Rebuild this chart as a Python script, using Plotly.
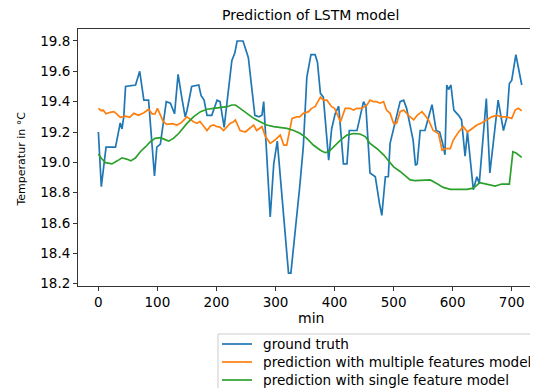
import plotly.graph_objects as go

# ground truth
gt_x = [0, 5, 13, 29, 33, 37, 40, 43, 46, 63, 70, 77, 85, 95, 99, 105, 115, 122, 129, 135,
        142, 147, 150, 158, 170, 174, 179, 184, 192, 201, 206, 213, 226, 231, 235, 245, 254,
        265, 272, 277, 280, 291, 297, 303, 322, 326, 341, 347, 353, 360, 367, 371, 376, 381,
        390, 395, 401, 407, 415, 421, 425, 438, 449, 453, 460, 469, 476, 480, 486, 491, 494,
        511, 517, 522, 533, 537, 540, 545, 553, 559, 565, 572, 578, 583, 587, 590, 593, 597,
        602, 610, 615, 621, 625, 635, 641, 645, 657, 663, 677, 686, 692, 696, 700, 707, 711, 717]
gt_y = [19.20, 18.84, 19.10, 19.10, 19.18, 19.26, 19.22, 19.30, 19.50, 19.51, 19.60, 19.41, 19.41,
        18.91, 19.10, 19.12, 19.40, 19.39, 19.32, 19.58, 19.41, 19.30, 19.34, 19.50, 19.51, 19.44,
        19.41, 19.31, 19.31, 19.41, 19.40, 19.23, 19.67, 19.72, 19.80, 19.80, 19.69, 19.31, 19.30,
        19.31, 19.40, 18.64, 18.99, 19.14, 18.27, 18.27, 18.84, 19.10, 19.56, 19.71, 19.71, 19.66,
        19.455, 19.43, 19.015, 19.22, 19.32, 19.37, 18.99, 18.99, 19.21, 19.21, 19.40, 19.37, 18.93,
        18.905, 18.73, 18.65, 18.905, 18.905, 19.125, 19.40, 19.41, 19.356, 19.147, 18.98, 18.99,
        19.21, 19.21, 19.30, 19.38, 19.21, 19.20, 19.125, 19.05, 19.51, 19.48, 19.51, 19.345, 19.31,
        19.28, 19.04, 19.20, 18.82, 18.905, 18.86, 19.42, 18.93, 19.41, 19.21, 19.30, 19.52, 19.54,
        19.71, 19.63, 19.51]

# prediction with multiple features model
mf_x = [0, 5, 8, 13, 20, 26, 31, 37, 46, 53, 60, 68, 77, 85, 91, 96, 100, 105, 110, 116, 125,
        133, 140, 150, 156, 161, 167, 172, 178, 184, 190, 195, 201, 206, 212, 218, 223, 229, 232,
        240, 249, 255, 263, 268, 277, 283, 291, 299, 308, 314, 319, 328, 336, 341, 347, 356, 361,
        367, 376, 381, 387, 395, 400, 410, 418, 426, 432, 438, 446, 455, 460, 466, 471, 477, 483,
        488, 494, 500, 505, 511, 517, 525, 534, 540, 548, 553, 559, 567, 576, 579, 582, 587, 596,
        601, 610, 618, 625, 632, 641, 649, 658, 666, 675, 683, 691, 700, 706, 711, 717]
mf_y = [19.356, 19.34, 19.345, 19.32, 19.33, 19.334, 19.32, 19.297, 19.305, 19.297, 19.323, 19.31,
        19.327, 19.35, 19.32, 19.32, 19.356, 19.31, 19.268, 19.25, 19.255, 19.246, 19.26, 19.30,
        19.28, 19.268, 19.257, 19.27, 19.24, 19.21, 19.24, 19.246, 19.235, 19.232, 19.21, 19.24,
        19.257, 19.268, 19.28, 19.21, 19.20, 19.22, 19.246, 19.21, 19.235, 19.17, 19.125, 19.147,
        19.18, 19.114, 19.114, 19.29, 19.30, 19.30, 19.323, 19.334, 19.356, 19.367, 19.43, 19.41,
        19.41, 19.367, 19.356, 19.268, 19.356, 19.356, 19.345, 19.356, 19.356, 19.378, 19.41, 19.40,
        19.40, 19.39, 19.40, 19.345, 19.323, 19.257, 19.257, 19.334, 19.345, 19.31, 19.28, 19.31,
        19.334, 19.31, 19.28, 19.21, 19.19, 19.136, 19.08, 19.09, 19.09, 19.147, 19.20, 19.235,
        19.20, 19.22, 19.246, 19.26, 19.28, 19.30, 19.31, 19.30, 19.30, 19.29, 19.345, 19.356, 19.34]

# prediction with single feature model
sf_x = [0, 5, 12, 23, 32, 40, 49, 55, 63, 71, 80, 88, 96, 105, 113, 119, 127, 136, 150, 161,
        173, 184, 195, 206, 218, 226, 232, 240, 252, 263, 274, 285, 297, 308, 319, 331, 342, 353,
        364, 376, 384, 390, 398, 410, 421, 432, 443, 452, 460, 472, 483, 490, 500, 511, 520, 528,
        536, 548, 562, 573, 584, 596, 607, 615, 624, 635, 646, 658, 672, 683, 696, 702, 708, 717]
sf_y = [19.055, 19.027, 18.998, 18.99, 19.01, 19.03, 19.02, 19.01, 19.03, 19.07, 19.103, 19.136,
        19.158, 19.163, 19.15, 19.14, 19.158, 19.19, 19.257, 19.30, 19.334, 19.35, 19.356, 19.363,
        19.367, 19.378, 19.378, 19.356, 19.323, 19.29, 19.268, 19.246, 19.235, 19.23, 19.224, 19.21,
        19.19, 19.158, 19.114, 19.08, 19.064, 19.07, 19.103, 19.147, 19.18, 19.19, 19.187, 19.17,
        19.125, 19.09, 19.05, 19.015, 18.97, 18.94, 18.91, 18.884, 18.88, 18.884, 18.884, 18.86,
        18.835, 18.822, 18.82, 18.822, 18.822, 18.83, 18.866, 18.857, 18.844, 18.857, 18.857,
        19.07, 19.06, 19.033]

series_names = ["ground truth", "prediction with multiple features model",
                "prediction with single feature model"]
series_colors = ["#1f77b4", "#ff7f0e", "#2ca02c"]

x_ticks = [0, 100, 200, 300, 400, 500, 600, 700]
y_ticks = [18.2, 18.4, 18.6, 18.8, 19.0, 19.2, 19.4, 19.6, 19.8]
y_tick_labels = ["18.2", "18.4", "18.6", "18.8", "19.0", "19.2", "19.4", "19.6", "19.8"]

FONT = "DejaVu Sans"
W, H = 530, 380           # page body has an 8px margin; 8 + 530 = 538
L, T, B = 70, 21, 102
PW, PH = W - L, H - T - B  # plot area in px


def px_to_paper(x, y):
    # x, y in figure pixels (top-left origin)
    return (x - L) / PW, (T + PH - y) / PH


fig = go.Figure()
for xs, ys, nm, col in zip([gt_x, mf_x, sf_x], [gt_y, mf_y, sf_y], series_names, series_colors):
    fig.add_trace(go.Scatter(x=xs, y=ys, mode="lines", name=nm, showlegend=False,
                             line=dict(color=col, width=1.7)))

# hand-made legend (matplotlib style spacing)
shapes = []
annotations = []
bx0, by0 = px_to_paper(210, 326)
bx1, by1 = px_to_paper(560, 400)
shapes.append(dict(type="rect", xref="paper", yref="paper", x0=bx0, x1=bx1, y0=by1, y1=by0,
                   line=dict(color="#cccccc", width=1), fillcolor="white", layer="above"))
for i, (nm, col) in enumerate(zip(series_names, series_colors)):
    cy = 336 + 18 * i
    lx0, ly = px_to_paper(214, cy)
    lx1, _ = px_to_paper(244, cy)
    tx, _ = px_to_paper(254, cy)
    shapes.append(dict(type="line", xref="paper", yref="paper", x0=lx0, x1=lx1, y0=ly, y1=ly,
                       line=dict(color=col, width=1.7), layer="above"))
    annotations.append(dict(text=nm, xref="paper", yref="paper", x=tx, y=ly,
                            xanchor="left", yanchor="middle", showarrow=False, borderpad=0,
                            font=dict(size=13.6, family=FONT, color="black")))

tx, ty = px_to_paper(302, 7)
annotations.append(dict(text="Prediction of LSTM model", xref="paper", yref="paper",
                        x=tx, y=ty, xanchor="center", yanchor="middle", showarrow=False,
                        font=dict(size=14, family=FONT, color="black")))
mx, my = px_to_paper(302.5, 309.5)
annotations.append(dict(text="min", xref="paper", yref="paper", x=mx, y=my,
                        xanchor="center", yanchor="middle", showarrow=False,
                        font=dict(size=14, family=FONT, color="black")))
yx, yy = px_to_paper(12.5, 151)
annotations.append(dict(text="Temperatur in °C", xref="paper", yref="paper", x=yx, y=yy,
                        xanchor="center", yanchor="middle", textangle=-90, showarrow=False,
                        font=dict(size=11, family=FONT, color="black")))

fig.update_layout(
    width=W, height=H,
    margin=dict(l=L, r=0, t=T, b=B, pad=0, autoexpand=False),
    paper_bgcolor="white", plot_bgcolor="white",
    font=dict(family=FONT, color="black", size=14),
    showlegend=False,
    xaxis=dict(range=[-34.5, 744.5], tickvals=x_ticks, showgrid=False, zeroline=False,
               showline=True, mirror=True, linecolor="#333", linewidth=1,
               ticks="outside", ticklen=4, tickcolor="#333",
               tickfont=dict(size=13.5, family=FONT, color="black")),
    yaxis=dict(range=[18.185, 19.879], tickvals=y_ticks, ticktext=y_tick_labels,
               showgrid=False, zeroline=False,
               showline=True, mirror=False, linecolor="#333", linewidth=1,
               ticks="outside", ticklen=4, tickcolor="#333",
               tickfont=dict(size=13.5, family=FONT, color="black")),
    shapes=shapes,
    annotations=annotations,
)

fig.write_html("out.html")
